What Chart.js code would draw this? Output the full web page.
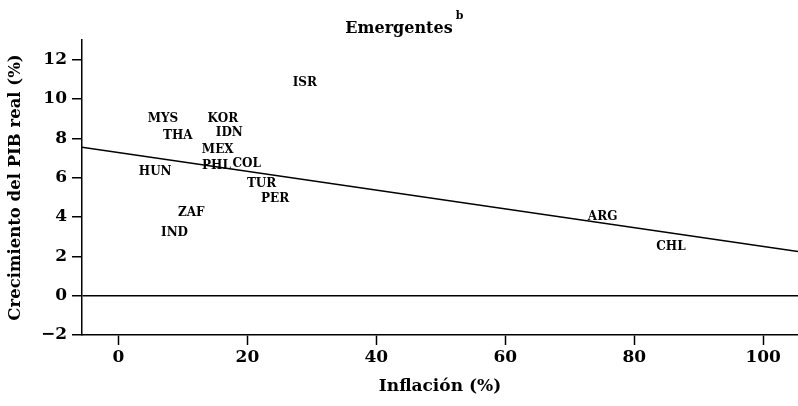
<!DOCTYPE html>
<html>
<head>
<meta charset="utf-8">
<script src="https://cdn.jsdelivr.net/npm/chart.js@4"></script>
<style>
  html, body { margin: 0; padding: 0; background: #fff; }
  #wrap { width: 798px; height: 406px; }
</style>
</head>
<body>
<div id="wrap"><canvas id="c" width="798" height="406"></canvas></div>
<script>
// Country codes with inflation (%) and real GDP growth (%)
const countries = ['ISR', 'MYS', 'KOR', 'THA', 'IDN', 'MEX', 'PHL', 'COL', 'HUN', 'TUR', 'PER', 'ZAF', 'IND', 'ARG', 'CHL'];
const inflation = [28.9, 6.9, 16.2, 9.2, 17.2, 15.4, 15.2, 19.9, 5.7, 22.2, 24.3, 11.3, 8.7, 75.1, 85.7];
const growth    = [10.8, 9.0, 9.0, 8.1, 8.3, 7.4, 6.6, 6.7, 6.3, 5.7, 4.9, 4.2, 3.2, 4.0, 2.5];

// Fitted trend line, end points
const fitInflation = [-5.65, 105.4];
const fitGrowth    = [7.55, 2.25];

// Axis ticks
const xTicks = [0, 20, 40, 60, 80, 100];
const yTicks = [-2, 0, 2, 4, 6, 8, 10, 12];

const SERIF = '"DejaVu Serif", "Liberation Serif", serif';

const labelPoints = countries.map((c, i) => ({ x: inflation[i], y: growth[i] }));
const fitPoints = fitInflation.map((x, i) => ({ x: x, y: fitGrowth[i] }));

// Draws each country code centred on its point
const countryLabels = {
  id: 'countryLabels',
  afterDatasetsDraw(chart) {
    const ctx = chart.ctx;
    const meta = chart.getDatasetMeta(0);
    ctx.save();
    ctx.fillStyle = '#000';
    ctx.font = 'bold 12px ' + SERIF;
    ctx.textAlign = 'center';
    ctx.textBaseline = 'middle';
    meta.data.forEach((el, i) => {
      ctx.fillText(countries[i], el.x, el.y);
    });
    ctx.restore();
  }
};

// Heading with superscript note mark
const heading = {
  id: 'heading',
  afterDraw(chart) {
    const ctx = chart.ctx;
    ctx.save();
    ctx.fillStyle = '#000';
    ctx.font = 'bold 16px ' + SERIF;
    ctx.textAlign = 'center';
    ctx.textBaseline = 'alphabetic';
    const cx = chart.width / 2;
    const txt = 'Emergentes';
    ctx.fillText(txt, cx, 33);
    const w = ctx.measureText(txt).width;
    ctx.font = 'bold 11px ' + SERIF;
    ctx.textAlign = 'left';
    ctx.fillText('b', cx + w / 2 + 3, 19);
    ctx.restore();
  }
};

new Chart(document.getElementById('c'), {
  type: 'scatter',
  data: {
    datasets: [
      {
        data: labelPoints,
        pointRadius: 0,
        pointHoverRadius: 0,
        showLine: false
      },
      {
        data: fitPoints,
        showLine: true,
        pointRadius: 0,
        pointHoverRadius: 0,
        borderColor: '#000',
        borderWidth: 1.5,
        fill: false
      }
    ]
  },
  options: {
    responsive: false,
    devicePixelRatio: 1,
    animation: false,
    events: [],
    layout: { padding: { top: 40, right: 0, left: 0, bottom: 0 } },
    plugins: {
      legend: { display: false },
      tooltip: { enabled: false },
      title: { display: false }
    },
    scales: {
      x: {
        type: 'linear',
        min: fitInflation[0],
        max: fitInflation[1],
        afterBuildTicks: (axis) => { axis.ticks = xTicks.map(v => ({ value: v })); },
        afterFit: (axis) => { axis.height = 71; },
        border: { display: true, color: '#000', width: 1.5 },
        grid: {
          drawOnChartArea: false,
          drawTicks: true,
          tickLength: 10,
          tickColor: '#000',
          tickWidth: 1.5
        },
        ticks: {
          color: '#000',
          font: { family: SERIF, size: 17, weight: 'bold' },
          padding: 2,
          maxRotation: 0,
          autoSkip: false
        },
        title: {
          display: true,
          text: 'Inflación (%)',
          color: '#000',
          font: { family: SERIF, size: 17, weight: 'bold' },
          padding: { top: 0, bottom: 9 }
        }
      },
      y: {
        type: 'linear',
        min: -2,
        max: 13,
        afterBuildTicks: (axis) => { axis.ticks = yTicks.map(v => ({ value: v })); },
        afterFit: (axis) => { axis.width = 82; },
        border: { display: true, color: '#000', width: 1.5 },
        grid: {
          drawOnChartArea: true,
          color: (c) => (c.tick && c.tick.value === 0 ? '#000' : 'rgba(0,0,0,0)'),
          lineWidth: 1.5,
          drawTicks: true,
          tickLength: 10,
          tickColor: '#000',
          tickWidth: 1.5
        },
        ticks: {
          color: '#000',
          font: { family: SERIF, size: 17, weight: 'bold' },
          padding: 5,
          autoSkip: false,
          callback: (v) => (v < 0 ? '\u2212' + Math.abs(v) : String(v))
        },
        title: {
          display: true,
          text: 'Crecimiento del PIB real (%)',
          color: '#000',
          font: { family: SERIF, size: 16.5, weight: 'bold' },
          padding: { top: 6, bottom: 0 }
        }
      }
    }
  },
  plugins: [countryLabels, heading]
});
</script>
</body>
</html>
